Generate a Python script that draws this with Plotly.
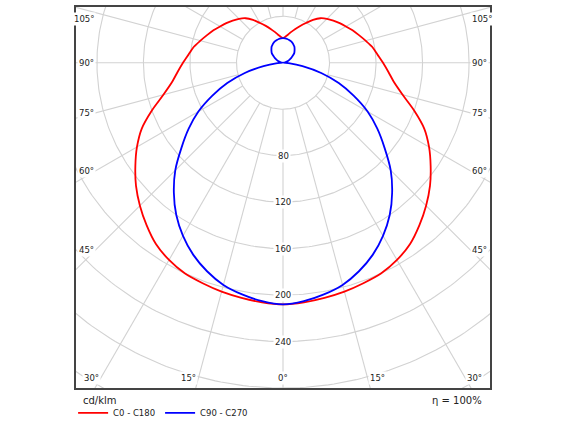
import numpy as np
import plotly.graph_objects as go

# ------------------------------------------------------------
# Luminous intensity distribution (cd/klm), gamma from nadir
# ------------------------------------------------------------
GAMMA = list(range(0, 181, 5))

C0_C180 = [208, 207, 205.5, 204, 202, 200, 196, 190.5, 182.5, 174,
           165, 155, 145, 134, 120, 106.5, 97, 91, 86, 81.5,
           78, 73.5, 69.5, 66, 62.5, 59.5, 56.5, 53.5, 50, 45,
           39.5, 35, 31, 27.5, 24.5, 22.5, 21.2]

C90_C270 = [208, 206, 202.5, 198, 191, 182.5, 172, 160, 146, 131,
            114, 99, 84, 67, 51, 34, 17, 6, 0.5, 1,
            2, 3, 4.5, 6, 8, 10, 12.5, 14, 15.5, 17,
            18, 19, 19.8, 20.3, 20.8, 21.1, 21.2]

RINGS = [40, 80, 120, 160, 200, 240, 280, 320]
RING_LABELS = [80, 120, 160, 200, 240]
SPOKES = list(range(0, 360, 15))
ANGLE_LABELS = [-105, -90, -75, -60, -45, -30, -15, 0, 15, 30, 45, 60, 75, 90, 105]

RED = "#ff0000"
BLUE = "#0000ff"
GRID = "#d2d2d2"
TXT = "#222222"
FONT = "DejaVu Sans"

# visible window in cd/klm units (luminaire at origin, nadir pointing down)
X_HALF = 178
Y_TOP = 48
Y_BOT = -280


def to_xy(gamma, vals):
    """mirror one half-plane pair: left side gamma 0->180, right side 180->0"""
    g = np.radians(np.array(gamma, dtype=float))
    r = np.array(vals, dtype=float)
    xl, yl = -r * np.sin(g), -r * np.cos(g)
    xr, yr = r[::-1] * np.sin(g[::-1]), -r[::-1] * np.cos(g[::-1])
    return np.concatenate([xl, xr[1:]]), np.concatenate([yl, yr[1:]])


# grid: rings + spokes in one trace
gx, gy = [], []
t = np.linspace(0, 2 * np.pi, 361)
for rr in RINGS:
    gx += list(rr * np.cos(t)) + [None]
    gy += list(rr * np.sin(t)) + [None]
for a in SPOKES:
    ar = np.radians(a)
    gx += [RINGS[0] * np.sin(ar), 450 * np.sin(ar), None]
    gy += [-RINGS[0] * np.cos(ar), -450 * np.cos(ar), None]

fig = go.Figure()
fig.add_trace(go.Scatter(
    x=gx, y=gy, mode="lines", hoverinfo="skip", showlegend=False,
    line=dict(color=GRID, width=1.1),
))

rx, ry = to_xy(GAMMA, C0_C180)
bx, by = to_xy(GAMMA, C90_C270)
fig.add_trace(go.Scatter(x=rx, y=ry, mode="lines", name="C0 - C180",
                         line=dict(color=RED, width=1.8, shape="spline",
                                   smoothing=0.8)))
fig.add_trace(go.Scatter(x=bx, y=by, mode="lines", name="C90 - C270",
                         line=dict(color=BLUE, width=1.8, shape="spline",
                                   smoothing=0.8)))

# ring value labels along the nadir
for v in RING_LABELS:
    fig.add_annotation(x=0, y=-v, text=str(v), showarrow=False,
                       font=dict(family=FONT, size=8.5, color=TXT),
                       bgcolor="white", borderpad=1)

# angle labels where the spokes meet an inset of the frame
SIDE = 161.0
BOTTOM = -271.7
TOP = 38.0
for a in ANGLE_LABELS:
    ar = np.radians(abs(a))
    sgn = np.sign(a)
    if a == 0:
        x, y = 0.0, BOTTOM
    else:
        y_side = -SIDE / np.tan(ar)
        if y_side >= BOTTOM:
            x, y = sgn * SIDE, min(y_side, TOP)
        else:
            x, y = -sgn * BOTTOM * np.tan(ar), BOTTOM
    xa = "center" if a == 0 else ("right" if a < 0 else "left")
    fig.add_annotation(x=x, y=y, text=f"{abs(a)}°", showarrow=False,
                       xanchor=xa, yanchor="middle",
                       font=dict(family=FONT, size=8.5, color=TXT),
                       bgcolor="white", borderpad=1)

fig.add_annotation(xref="paper", yref="paper", x=0.012, y=-0.034,
                   xanchor="left", yanchor="middle", text="cd/klm",
                   showarrow=False, font=dict(family=FONT, size=10, color=TXT))
fig.add_annotation(xref="paper", yref="paper", x=0.986, y=-0.034,
                   xanchor="right", yanchor="middle", text="η = 100%",
                   showarrow=False, font=dict(family=FONT, size=10, color=TXT))

axis = dict(showgrid=False, zeroline=False, showticklabels=False, ticks="",
            showline=True, mirror=True, linecolor="#444444", linewidth=2,
            fixedrange=True)
fig.update_layout(
    width=567, height=425,
    margin=dict(l=76, r=77, t=7, b=37, autoexpand=False),
    paper_bgcolor="white", plot_bgcolor="white",
    xaxis=dict(range=[-X_HALF, X_HALF], **axis),
    yaxis=dict(range=[Y_BOT, Y_TOP], **axis),
    showlegend=True,
    legend=dict(orientation="h", x=-0.007, xanchor="left", y=-0.027,
                yanchor="top", font=dict(family=FONT, size=8.5, color=TXT),
                bgcolor="rgba(0,0,0,0)", itemwidth=30, tracegroupgap=0),
    font=dict(family=FONT, color=TXT),
)

fig.write_html("out.html", config={"displayModeBar": False},
               post_script="document.body.style.margin='0';")
